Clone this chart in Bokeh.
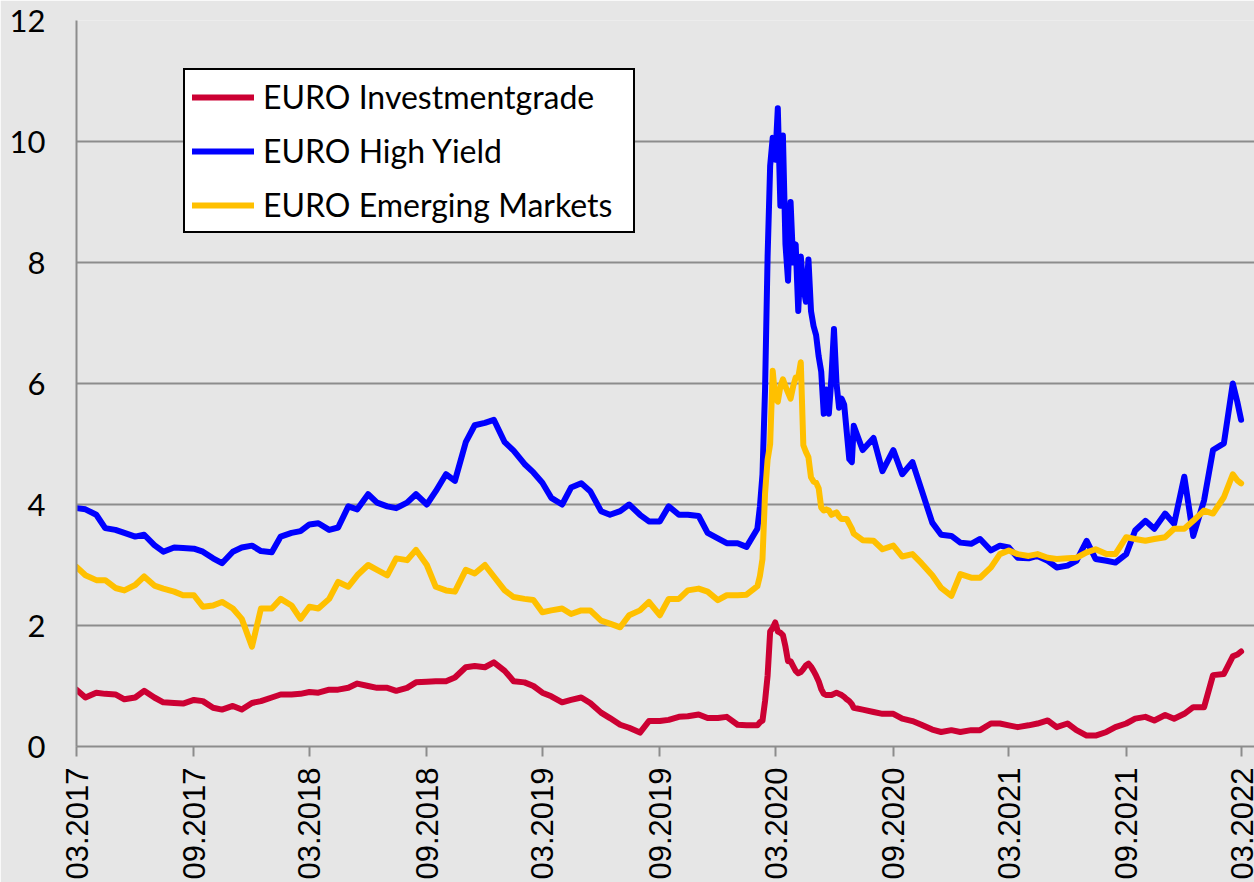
import math
import pandas as pd
from bokeh.plotting import figure
from bokeh.models import Range1d, FixedTicker, DatetimeTickFormatter, Legend, LegendItem
from bokeh.embed import file_html
from bokeh.resources import INLINE

# ---------------- data ----------------
series_names = ["EURO Investmentgrade", "EURO High Yield", "EURO Emerging Markets"]
series_colors = ["#CC0033", "#0000FF", "#FFC000"]

tick_dates = ["2017-03-01", "2017-09-01", "2018-03-01", "2018-09-01", "2019-03-01",
              "2019-09-01", "2020-03-01", "2020-09-01", "2021-03-01", "2021-09-01", "2022-03-01"]
y_ticks = [0, 2, 4, 6, 8, 10, 12]

# sample dates: semi-monthly until mid Jan 2020, every 4 days during the 2020 spike, semi-monthly after
dates_a = pd.date_range("2017-03-01", "2020-01-15", freq="SMS")
dates_b = pd.date_range("2020-02-01", periods=38, freq="4D")
dates_c = list(pd.date_range("2020-07-01", "2022-02-15", freq="SMS")) + [pd.Timestamp("2022-02-22"), pd.Timestamp("2022-02-28")]

ig_a = [0.94, 0.81, 0.89, 0.87, 0.86, 0.78, 0.81, 0.92, 0.81, 0.73, 0.72, 0.71, 0.77, 0.75, 0.64, 0.61,
        0.67, 0.61, 0.72, 0.75, 0.81, 0.86, 0.86, 0.87, 0.90, 0.89, 0.94, 0.94, 0.97, 1.04, 1.00, 0.97,
        0.97, 0.92, 0.97, 1.06, 1.07, 1.08, 1.08, 1.14, 1.31, 1.33, 1.31, 1.39, 1.25, 1.08, 1.06, 1.00,
        0.89, 0.83, 0.73, 0.77, 0.81, 0.72, 0.56, 0.47, 0.36, 0.31, 0.23, 0.42, 0.42, 0.44, 0.49, 0.50,
        0.53, 0.47, 0.47, 0.49, 0.36, 0.35]
ig_b = [0.35, 0.40, 0.43, 0.75, 1.17, 1.90, 1.96, 2.05, 1.90, 1.88, 1.84, 1.65, 1.41, 1.41, 1.33, 1.25,
        1.21, 1.23, 1.28, 1.34, 1.37, 1.32, 1.25, 1.17, 1.08, 0.95, 0.87, 0.85, 0.85, 0.85, 0.87, 0.89,
        0.87, 0.85, 0.82, 0.78, 0.75, 0.70]
ig_c = [0.64, 0.61, 0.57, 0.54, 0.54, 0.46, 0.42, 0.36, 0.28, 0.24, 0.27, 0.24, 0.27, 0.27, 0.38, 0.38,
        0.35, 0.32, 0.35, 0.38, 0.43, 0.32, 0.38, 0.27, 0.18, 0.18, 0.24, 0.32, 0.38, 0.46, 0.49, 0.43,
        0.52, 0.46, 0.54, 0.65, 0.65, 1.18, 1.20, 1.49, 1.52, 1.57]

hy_a = [3.94, 3.92, 3.83, 3.61, 3.58, 3.53, 3.47, 3.50, 3.33, 3.22, 3.29, 3.28, 3.27, 3.22, 3.11, 3.03,
        3.22, 3.29, 3.32, 3.23, 3.21, 3.47, 3.53, 3.56, 3.67, 3.69, 3.58, 3.62, 3.97, 3.92, 4.17, 4.03,
        3.97, 3.94, 4.03, 4.17, 4.00, 4.22, 4.50, 4.39, 5.03, 5.31, 5.35, 5.40, 5.03, 4.89, 4.67, 4.53,
        4.36, 4.11, 4.00, 4.28, 4.35, 4.22, 3.89, 3.83, 3.89, 4.00, 3.83, 3.72, 3.72, 3.97, 3.83, 3.83,
        3.81, 3.53, 3.44, 3.36, 3.36, 3.30]
hy_b = [3.60, 3.97, 4.50, 5.90, 8.10, 9.60, 10.06, 9.70, 10.55, 8.94, 10.10, 8.30, 7.70, 9.00, 8.00, 8.30,
        7.20, 8.10, 7.60, 7.35, 8.05, 7.20, 6.95, 6.80, 6.45, 6.20, 5.50, 5.90, 5.50, 6.10, 6.90, 6.00,
        5.60, 5.75, 5.65, 5.20, 4.75, 4.70]
hy_c = [5.30, 4.90, 5.10, 4.55, 4.90, 4.50, 4.70, 4.25, 3.70, 3.50, 3.48, 3.37, 3.35, 3.43, 3.24, 3.32,
        3.29, 3.12, 3.11, 3.15, 3.07, 2.96, 2.99, 3.07, 3.40, 3.10, 3.07, 3.04, 3.18, 3.57, 3.73, 3.60,
        3.85, 3.68, 4.46, 3.48, 4.07, 4.90, 5.01, 6.00, 5.70, 5.40]

em_a = [2.97, 2.83, 2.75, 2.75, 2.62, 2.58, 2.67, 2.81, 2.66, 2.61, 2.56, 2.50, 2.50, 2.31, 2.33, 2.39,
        2.28, 2.11, 1.65, 2.28, 2.28, 2.44, 2.33, 2.11, 2.31, 2.28, 2.44, 2.72, 2.64, 2.83, 3.00, 2.92,
        2.83, 3.11, 3.08, 3.25, 3.00, 2.64, 2.58, 2.56, 2.92, 2.86, 3.00, 2.81, 2.58, 2.47, 2.44, 2.42,
        2.22, 2.25, 2.28, 2.19, 2.25, 2.25, 2.08, 2.03, 1.97, 2.17, 2.25, 2.39, 2.17, 2.44, 2.44, 2.58,
        2.61, 2.56, 2.42, 2.50, 2.50, 2.51]
em_b = [2.65, 2.82, 3.10, 4.18, 4.74, 5.00, 6.21, 5.75, 5.70, 5.95, 6.07, 5.95, 5.85, 5.75, 5.95, 6.10,
        6.10, 6.35, 4.98, 4.87, 4.78, 4.45, 4.38, 4.36, 4.27, 3.95, 3.90, 3.92, 3.90, 3.83, 3.85, 3.87,
        3.80, 3.76, 3.76, 3.76, 3.68, 3.60]
em_c = [3.52, 3.41, 3.40, 3.26, 3.32, 3.14, 3.18, 3.03, 2.83, 2.62, 2.49, 2.85, 2.79, 2.79, 2.96, 3.18,
        3.24, 3.18, 3.15, 3.18, 3.12, 3.10, 3.11, 3.12, 3.21, 3.26, 3.18, 3.18, 3.46, 3.43, 3.40, 3.43,
        3.46, 3.60, 3.60, 3.73, 3.90, 3.85, 4.12, 4.50, 4.40, 4.35]

# ---------------- assemble ----------------
dates = list(dates_a) + list(dates_b) + list(dates_c)
values = [ig_a + ig_b + ig_c, hy_a + hy_b + hy_c, em_a + em_b + em_c]
for v in values:
    assert len(v) == len(dates), (len(v), len(dates))

BG = "#E6E6E6"
GRID = "#8C8C8C"

p = figure(width=1254, height=882, x_axis_type="datetime",
           output_backend="svg", toolbar_location=None,
           x_range=Range1d(pd.Timestamp("2017-03-01"), pd.Timestamp("2022-03-21")),
           y_range=Range1d(0, 12),
           min_border_left=76, min_border_top=20, min_border_right=0, min_border_bottom=10)
p.background_fill_color = BG
p.border_fill_color = BG
p.outline_line_color = None

renderers = []
for name, col, vals in zip(series_names, series_colors, values):
    r = p.line(dates, vals, line_color=col, line_width=6, line_join="round", line_cap="round")
    renderers.append(r)

# axes
xa = p.xaxis[0]
xa.ticker = FixedTicker(ticks=[pd.Timestamp(d).value // 10**6 for d in tick_dates])
xa.formatter = DatetimeTickFormatter(days="%m.%Y", months="%m.%Y", years="%m.%Y")
xa.major_label_orientation = math.pi / 2
xa.major_label_text_font = "Liberation Sans"
xa.major_label_text_font_size = "31px"
xa.major_label_text_color = "black"
xa.major_label_standoff = 11
xa.major_tick_out = 10
xa.major_tick_in = 0
xa.major_tick_line_color = GRID
xa.major_tick_line_width = 2
xa.minor_tick_line_color = None
xa.axis_line_color = GRID
xa.axis_line_width = 2

ya = p.yaxis[0]
ya.ticker = FixedTicker(ticks=y_ticks)
ya.major_label_text_font = "Lato"
ya.major_label_text_font_size = "31px"
ya.major_label_text_color = "black"
ya.major_label_standoff = 31
ya.major_tick_out = 0
ya.major_tick_in = 0
ya.minor_tick_line_color = None
ya.axis_line_color = GRID
ya.axis_line_width = 2

p.xgrid.visible = False
p.ygrid.ticker = FixedTicker(ticks=y_ticks)
p.ygrid.grid_line_color = GRID
p.ygrid.grid_line_width = 2

legend = Legend(items=[LegendItem(label=n, renderers=[r]) for n, r in zip(series_names, renderers)],
                location=(107, 513))
legend.label_text_font = "Lato"
legend.label_text_font_size = "32px"
legend.label_text_color = "black"
legend.glyph_width = 62
legend.glyph_height = 30
legend.label_height = 30
legend.label_width = 363
legend.label_standoff = 9
legend.spacing = 15
legend.padding = 7
legend.border_line_color = "black"
legend.border_line_alpha = 1.0
legend.border_line_width = 2
legend.background_fill_color = "white"
legend.background_fill_alpha = 1
p.add_layout(legend, "center")

open("out.html", "w").write(file_html(p, INLINE))
